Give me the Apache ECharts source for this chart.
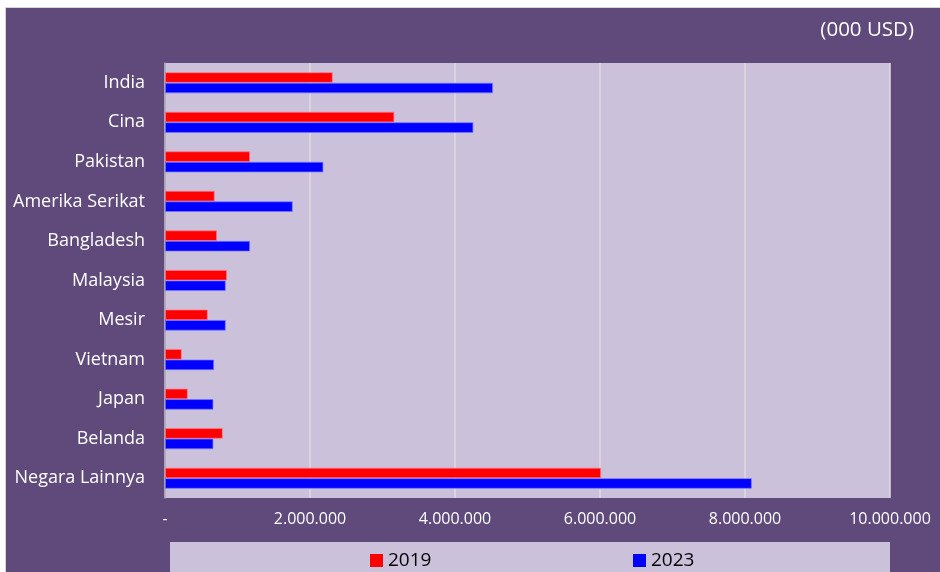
<!DOCTYPE html>
<html>
<head>
<meta charset="utf-8">
<script src="https://cdn.jsdelivr.net/npm/echarts@6/dist/echarts.min.js"></script>
<style>
  html, body { margin: 0; padding: 0; background: #ffffff; }
  #bg { position: absolute; left: 5px; top: 7px; width: 935px; height: 565px; background: #604a7b; border-left: 1px solid #d6d6d6; border-top: 1px solid #d6d6d6; }
  #chart { position: absolute; left: 0; top: 0; width: 940px; height: 572px; }
</style>
</head>
<body>
<div id="bg"></div>
<div id="chart"></div>
<script>
const categories = ['India', 'Cina', 'Pakistan', 'Amerika Serikat', 'Bangladesh', 'Malaysia', 'Mesir', 'Vietnam', 'Japan', 'Belanda', 'Negara Lainnya'];
const values2019 = [2313000, 3163000, 1172000, 685000, 717000, 855000, 589000, 230000, 313000, 796000, 6014000];
const values2023 = [4524000, 4253000, 2184000, 1761000, 1172000, 837000, 837000, 676000, 667000, 667000, 8093000];
const seriesNames = ['2019', '2023'];
const unitLabel = '(000 USD)';

function fmt(v) {
  if (v === 0) return '-';
  return String(Math.round(v)).replace(/\B(?=(\d{3})+(?!\d))/g, '.');
}

const chart = echarts.init(document.getElementById('chart'), null, { renderer: 'canvas' });
const FONT = '"Open Sans", "Noto Sans", sans-serif';
chart.setOption({
  backgroundColor: 'transparent',
  animation: false,
  textStyle: { fontFamily: FONT },
  title: {
    text: unitLabel,
    right: 21,
    top: 15,
    textStyle: { color: '#ffffff', fontSize: 20.5, fontWeight: 'normal', fontFamily: FONT }
  },
  graphic: [{
    type: 'rect',
    shape: { x: 170, y: 542, width: 720, height: 32 },
    style: { fill: '#ccc1da' },
    z: 0
  }],
  legend: [{
    data: [seriesNames[0]],
    left: 365,
    top: 546,
    itemWidth: 13,
    itemHeight: 13,
    itemGap: 6,
    icon: 'rect',
    itemStyle: { borderWidth: 0 },
    textStyle: { color: '#000000', fontSize: 19, fontFamily: FONT }
  }, {
    data: [seriesNames[1]],
    left: 628,
    top: 546,
    itemWidth: 13,
    itemHeight: 13,
    icon: 'rect',
    itemStyle: { borderWidth: 0 },
    textStyle: { color: '#000000', fontSize: 19, fontFamily: FONT }
  }],
  grid: {
    left: 165, right: 50, top: 63, bottom: 74,
    show: true, backgroundColor: '#ccc1da', borderWidth: 0
  },
  xAxis: {
    type: 'value',
    min: 0, max: 10000000, interval: 2000000,
    axisLine: { show: false },
    axisTick: { show: false },
    splitLine: { lineStyle: { color: '#dcdcdc', width: 1.5 } },
    axisLabel: { color: '#ffffff', fontSize: 16, margin: 13, formatter: fmt, fontFamily: FONT }
  },
  yAxis: {
    type: 'category',
    data: categories,
    inverse: true,
    axisLine: { show: true, lineStyle: { color: '#a6a0ae', width: 1.5 } },
    axisTick: { show: false },
    axisLabel: { color: '#ffffff', fontSize: 18, margin: 20, fontFamily: FONT }
  },
  series: [{
    name: seriesNames[0],
    type: 'bar',
    data: values2019,
    barWidth: 10.5,
    barGap: '0%',
    itemStyle: { color: '#ff0000', borderColor: 'rgba(255,120,140,0.9)', borderWidth: 0.8 }
  }, {
    name: seriesNames[1],
    type: 'bar',
    data: values2023,
    barWidth: 10.5,
    barGap: '0%',
    itemStyle: { color: '#0000ff', borderColor: 'rgba(120,120,255,0.9)', borderWidth: 0.8 }
  }]
});
</script>
</body>
</html>
